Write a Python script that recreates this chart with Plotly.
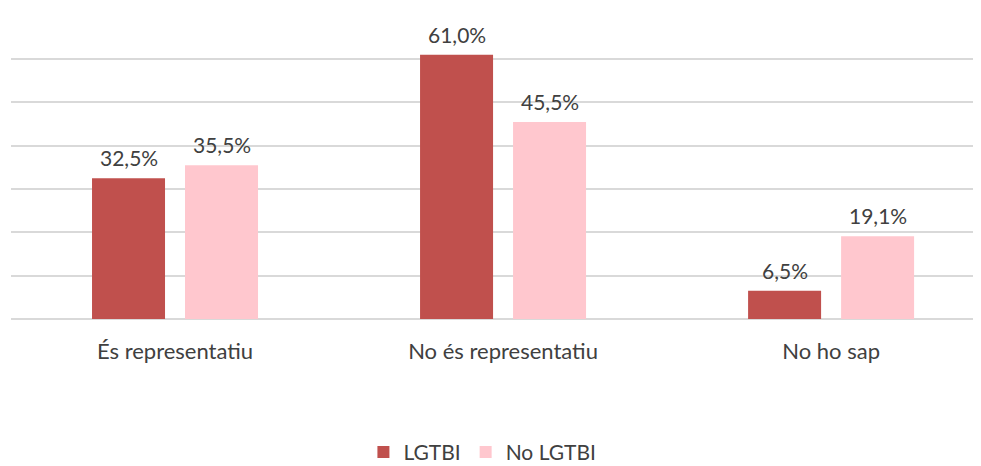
import plotly.graph_objects as go

categories = ["És representatiu", "No és representatiu", "No ho sap"]
lgtbi = [32.5, 61.0, 6.5]
no_lgtbi = [35.5, 45.5, 19.1]
series_names = ["LGTBI", "No LGTBI"]
colors = ["#C0504D", "#FFC7CE"]

FONT = "Lato, Open Sans, sans-serif"
TXT = "#404040"

fig = go.Figure()
for name, vals, col in zip(series_names, [lgtbi, no_lgtbi], colors):
    fig.add_trace(go.Bar(x=categories, y=vals, name=name, marker=dict(color=col, line=dict(width=0))))

def fmt(v):
    return f"{v:.1f}".replace(".", ",") + "%"

for vals, xs in [(lgtbi, -46.5), (no_lgtbi, 46.5)]:
    for c, v in zip(categories, vals):
        fig.add_annotation(x=c, y=v, text=fmt(v), showarrow=False, yanchor="bottom",
                           xshift=xs, yshift=6, font=dict(family=FONT, size=21, color=TXT))

fig.update_layout(
    width=973, height=458,
    margin=dict(l=3, r=0, t=7, b=147, autoexpand=False),
    paper_bgcolor="white", plot_bgcolor="white",
    barmode="group", bargap=0.433, bargroupgap=0.215,
    font=dict(family=FONT, size=21, color=TXT),
    showlegend=True,
    legend=dict(orientation="h", x=0.486, xanchor="center", yref="container", y=0.03, yanchor="middle",
                font=dict(family=FONT, size=21, color=TXT), traceorder="normal", itemwidth=30),
    xaxis=dict(range=[-0.5, 2.457], showgrid=False, zeroline=False, showline=False,
               ticks="", ticklabelstandoff=17, tickfont=dict(family=FONT, size=22, color=TXT)),
    yaxis=dict(range=[0, 70.2], tickvals=[0, 10, 20, 30, 40, 50, 60, 70], showticklabels=False, showgrid=True,
               gridcolor="#D9D9D9", gridwidth=1.5, zeroline=True, zerolinecolor="#D9D9D9",
               zerolinewidth=1.5, ticks=""),
)
fig.write_html("out.html")
